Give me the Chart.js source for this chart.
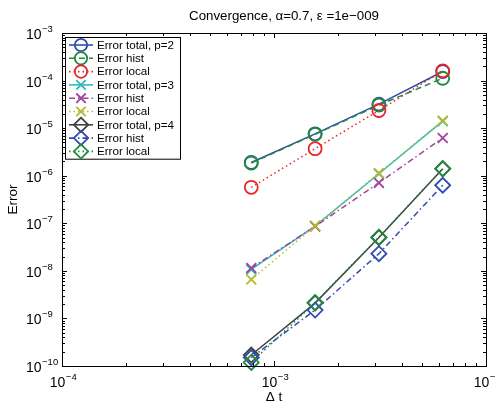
<!DOCTYPE html>
<html lang="en">
<head>
    <meta charset="UTF-8">
    <title>Convergence</title>
    <script src="https://cdn.jsdelivr.net/npm/chart.js"></script>
    <style>
        html, body { margin: 0; padding: 0; background: #fff; }
        #wrap { width: 496px; height: 405px; }
    </style>
</head>
<body>
    <div id="wrap"><canvas id="conv-chart" width="496" height="405"></canvas></div>

    <script>
        // time steps
        const dt = [7.8125e-4, 1.5625e-3, 3.125e-3, 6.25e-3];

        // errors
        const totalP2 = [1.9e-6, 7.6e-6, 3.2e-5, 1.55e-4];
        const histP2  = [1.85e-6, 7.4e-6, 3.05e-5, 1.12e-4];
        const localP2 = [5.7e-7, 3.7e-6, 2.35e-5, 1.6e-4];
        const totalP3 = [1.07e-8, 8.7e-8, 1.1e-6, 1.4e-5];
        const histP3  = [1.15e-8, 8.6e-8, 7.1e-7, 6.2e-6];
        const localP3 = [6.6e-9, 8.8e-8, 1.14e-6, 1.43e-5];
        const totalP4 = [1.7e-10, 2.1e-9, 5.0e-8, 1.4e-6];
        const histP4  = [1.5e-10, 1.5e-9, 2.3e-8, 6.3e-7];
        const localP4 = [1.19e-10, 2.15e-9, 5.1e-8, 1.41e-6];

        const seriesNames = ['Error total, p=2', 'Error hist', 'Error local',
                             'Error total, p=3', 'Error hist', 'Error local',
                             'Error total, p=4', 'Error hist', 'Error local'];

        // tick labels are 10 with these exponents
        const xTicks = [1e-4, 1e-3, 1e-2];
        const xTickExp = ['\u22124', '\u22123', '\u22122'];
        const yTicks = [1e-10, 1e-9, 1e-8, 1e-7, 1e-6, 1e-5, 1e-4, 1e-3];
        const yTickExp = ['\u221210', '\u22129', '\u22128', '\u22127', '\u22126', '\u22125', '\u22124', '\u22123'];

        const titleText = 'Convergence, \u03B1=0.7, \u03B5 =1e\u2212009';
        const FONT = 'Liberation Sans, Arial, Helvetica, sans-serif';

        const SOLID = [], DASH = [6, 4], DOT = [1.5, 3], DASHDOT = [6, 3, 1.5, 3];

        const styles = [
            { color: '#2f4bb0', dash: SOLID,   marker: 'circle',   r: 6.5 },
            { color: '#1f8a3c', dash: DASH,    marker: 'circle',   r: 6.5 },
            { color: '#e8252a', dash: DOT,     marker: 'circle',   r: 6.5 },
            { color: '#2dbdb8', dash: SOLID,   marker: 'crossRot', r: 7 },
            { color: '#a0449e', dash: DASHDOT, marker: 'crossRot', r: 7 },
            { color: '#b8b832', dash: DOT,     marker: 'crossRot', r: 7 },
            { color: '#404040', dash: SOLID,   marker: 'rectRot',  r: 7.5 },
            { color: '#2f4bb0', dash: DASHDOT, marker: 'rectRot',  r: 7.5 },
            { color: '#1f8a3c', dash: DOT,     marker: 'rectRot',  r: 7.5 }
        ];

        const allSeries = [totalP2, histP2, localP2, totalP3, histP3, localP3, totalP4, histP4, localP4];

        const datasets = allSeries.map((vals, i) => ({
            label: seriesNames[i],
            data: vals.map((v, k) => ({ x: dt[k], y: v })),
            borderColor: styles[i].color,
            borderWidth: 1.5,
            borderDash: styles[i].dash,
            backgroundColor: 'transparent',
            pointStyle: styles[i].marker,
            pointRadius: styles[i].r,
            pointHoverRadius: styles[i].r,
            pointBorderWidth: 1.8,
            pointBorderColor: styles[i].color,
            pointBackgroundColor: 'transparent',
            showLine: true,
            tension: 0,
            clip: false,
            order: 8 - i
        }));

        function drawMarker(ctx, type, x, y, r) {
            ctx.beginPath();
            if (type === 'circle') {
                ctx.arc(x, y, r, 0, Math.PI * 2);
            } else if (type === 'crossRot') {
                const d = r * Math.SQRT1_2;
                ctx.moveTo(x - d, y - d); ctx.lineTo(x + d, y + d);
                ctx.moveTo(x - d, y + d); ctx.lineTo(x + d, y - d);
            } else {
                ctx.moveTo(x, y - r); ctx.lineTo(x + r, y); ctx.lineTo(x, y + r); ctx.lineTo(x - r, y);
                ctx.closePath();
            }
            ctx.stroke();
        }

        // matlab style box with inward ticks, title and 10^n labels
        const boxPlugin = {
            id: 'box',
            afterDatasetsDraw(chart) {
                const { ctx, chartArea: a, scales } = chart;
                ctx.save();
                ctx.strokeStyle = '#000';
                ctx.lineWidth = 1;
                ctx.setLineDash([]);
                for (let e = -4; e < -2; e++) {
                    for (let m = 1; m < 10; m++) {
                        const px = Math.round(scales.x.getPixelForValue(m * Math.pow(10, e))) + 0.5;
                        const len = m === 1 ? 5 : 3;
                        ctx.beginPath();
                        ctx.moveTo(px, a.bottom); ctx.lineTo(px, a.bottom - len);
                        ctx.moveTo(px, a.top); ctx.lineTo(px, a.top + len);
                        ctx.stroke();
                    }
                }
                for (let e = -10; e < -3; e++) {
                    for (let m = 1; m < 10; m++) {
                        const py = Math.round(scales.y.getPixelForValue(m * Math.pow(10, e))) + 0.5;
                        const len = m === 1 ? 5 : 3;
                        ctx.beginPath();
                        ctx.moveTo(a.left, py); ctx.lineTo(a.left + len, py);
                        ctx.moveTo(a.right, py); ctx.lineTo(a.right - len, py);
                        ctx.stroke();
                    }
                }
                ctx.strokeRect(Math.round(a.left) + 0.5, Math.round(a.top) + 0.5,
                               Math.round(a.right - a.left), Math.round(a.bottom - a.top));

                ctx.fillStyle = '#000';
                ctx.textBaseline = 'alphabetic';
                const big = '14px ' + FONT, small = '9.5px ' + FONT;

                // y labels, left aligned
                yTicks.forEach((v, i) => {
                    const py = scales.y.getPixelForValue(v);
                    ctx.textAlign = 'left';
                    ctx.font = big;
                    ctx.fillText('10', 26, py + 6);
                    const w = ctx.measureText('10').width;
                    ctx.font = small;
                    ctx.fillText(yTickExp[i], 26 + w + 0.5, py - 1);
                });

                // x labels, centred under the tick
                xTicks.forEach((v, i) => {
                    const px = scales.x.getPixelForValue(v);
                    ctx.font = big;
                    const w1 = ctx.measureText('10').width;
                    ctx.font = small;
                    const w2 = ctx.measureText(xTickExp[i]).width;
                    const x0 = px - (w1 + w2) / 2 + 1;
                    ctx.textAlign = 'left';
                    ctx.font = big;
                    ctx.fillText('10', x0, 387);
                    ctx.font = small;
                    ctx.fillText(xTickExp[i], x0 + w1 + 0.5, 380);
                });

                ctx.font = '13.3px ' + FONT;
                ctx.textAlign = 'center';
                ctx.fillText(titleText, 284, 20);
                ctx.restore();
            }
        };

        // legend box in upper left corner
        const legendPlugin = {
            id: 'boxLegend',
            afterDraw(chart) {
                const { ctx, chartArea: a } = chart;
                const x0 = a.left + 3, y0 = a.top + 4, w = 115, rowH = 13.3;
                const h = rowH * seriesNames.length + 2;
                ctx.save();
                ctx.fillStyle = '#fff';
                ctx.fillRect(x0, y0, w, h);
                ctx.strokeStyle = '#000';
                ctx.lineWidth = 1;
                ctx.setLineDash([]);
                ctx.strokeRect(Math.round(x0) + 0.5, Math.round(y0) + 0.5, w, h);
                ctx.font = '11.6px ' + FONT;
                ctx.textBaseline = 'middle';
                seriesNames.forEach((name, i) => {
                    const cy = y0 + 8 + i * rowH;
                    const s = styles[i];
                    ctx.strokeStyle = s.color;
                    ctx.lineWidth = 1.6;
                    ctx.setLineDash(s.dash);
                    ctx.beginPath();
                    ctx.moveTo(x0 + 4, cy); ctx.lineTo(x0 + 28, cy);
                    ctx.stroke();
                    ctx.setLineDash([]);
                    ctx.lineWidth = 1.8;
                    drawMarker(ctx, s.marker, x0 + 16, cy, s.r * 0.95);
                    ctx.fillStyle = '#000';
                    ctx.fillText(name, x0 + 32, cy + 0.5);
                });
                ctx.restore();
            }
        };

        new Chart(document.getElementById('conv-chart'), {
            type: 'scatter',
            data: { datasets: datasets },
            options: {
                responsive: false,
                animation: false,
                events: [],
                layout: { padding: { left: 0, right: 10, top: 33, bottom: 0 } },
                plugins: {
                    legend: { display: false },
                    tooltip: { enabled: false },
                    title: { display: false }
                },
                scales: {
                    x: {
                        type: 'logarithmic',
                        min: 1e-4,
                        max: 1e-2,
                        grid: { display: false },
                        border: { display: false },
                        afterBuildTicks: s => { s.ticks = xTicks.map(v => ({ value: v })); },
                        afterFit: s => { s.height = 39; },
                        ticks: { display: false },
                        title: {
                            display: true,
                            text: '\u0394 t',
                            color: '#000',
                            font: { family: FONT, size: 13.5 },
                            padding: { top: 0, bottom: 0 }
                        }
                    },
                    y: {
                        type: 'logarithmic',
                        min: 1e-10,
                        max: 1e-3,
                        grid: { display: false },
                        border: { display: false },
                        afterBuildTicks: s => { s.ticks = yTicks.map(v => ({ value: v })); },
                        afterFit: s => { s.width = 62; },
                        ticks: { display: false },
                        title: {
                            display: true,
                            text: 'Error',
                            color: '#000',
                            font: { family: FONT, size: 13.5 },
                            padding: { top: 5, bottom: 0 }
                        }
                    }
                }
            },
            plugins: [boxPlugin, legendPlugin]
        });
    </script>
</body>
</html>
